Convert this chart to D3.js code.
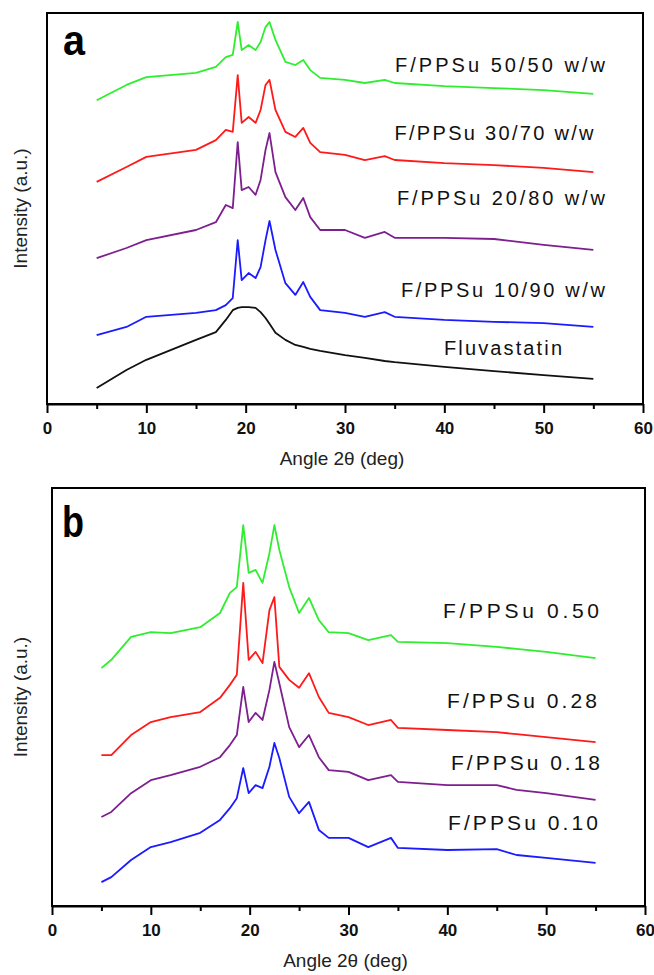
<!DOCTYPE html>
<html>
<head>
<meta charset="utf-8">
<script src="https://d3js.org/d3.v7.min.js"></script>
<style>
  body { margin: 0; background: #fff; }
  svg { display: block; font-family: "Liberation Sans", Arial, sans-serif; }
</style>
</head>
<body>
<svg id="chart" width="654" height="975"></svg>
<script>
// ---- panel a data (angle 2theta in deg, intensity in a.u. offset per trace) ----
const anglesA = [5, 8, 10, 15, 17, 18, 18.7, 19.2, 19.6, 20.3, 21, 21.5, 22, 22.4, 23, 24, 25, 25.8, 26.5, 27.5, 30, 32, 34, 35, 40, 45, 50, 55];
const fluvastatin = [4.1, 8.7, 11.3, 16.4, 18.4, 21.5, 24.0, 24.6, 24.8, 24.8, 24.6, 23.5, 22.0, 20.5, 18.2, 16.4, 15.1, 14.6, 14.1, 13.6, 12.5, 11.8, 11.0, 10.7, 9.5, 8.4, 7.4, 6.4];
const fp1090 = [17.6, 19.7, 22.3, 23.3, 24.0, 25.3, 27.1, 41.9, 31.7, 33.5, 32.2, 35.0, 41.9, 46.8, 39.4, 30.9, 27.9, 31.2, 27.4, 24.0, 23.3, 22.3, 23.5, 22.3, 21.5, 21.0, 20.7, 19.7];
const fp2080 = [37.3, 39.9, 41.9, 44.5, 46.5, 50.9, 50.1, 67.0, 54.7, 55.5, 53.5, 57.3, 65.0, 69.3, 59.3, 52.9, 49.6, 52.7, 47.8, 44.5, 44.5, 42.5, 44.0, 42.5, 42.5, 42.2, 40.7, 39.4];
const fp3070 = [56.8, 60.6, 63.2, 65.0, 67.5, 70.1, 69.6, 84.1, 71.9, 73.4, 71.9, 75.2, 81.6, 82.9, 75.2, 69.6, 68.3, 70.6, 66.8, 64.4, 63.7, 62.4, 63.4, 62.4, 61.6, 61.1, 60.4, 59.3];
const fp5050 = [77.7, 81.6, 83.6, 84.7, 86.2, 88.7, 89.3, 97.7, 90.5, 91.8, 90.5, 92.6, 96.4, 97.7, 93.1, 87.5, 86.7, 88.0, 85.4, 83.4, 82.9, 82.1, 82.9, 82.1, 81.3, 80.8, 80.3, 79.3];
const labelsA = ["F/PPSu 50/50 w/w", "F/PPSu 30/70 w/w", "F/PPSu 20/80 w/w", "F/PPSu 10/90 w/w", "Fluvastatin"];

// ---- panel b data ----
const anglesB = [5, 6, 8, 10, 12, 15, 17, 18, 18.7, 19.35, 19.9, 20.6, 21.3, 22, 22.5, 23, 24, 25, 26, 27, 28, 30, 32, 34.3, 35, 40, 45, 47, 50, 55];
const fp050 = [56.9, 58.9, 64.4, 65.5, 65.3, 66.7, 70.1, 74.9, 76.3, 91.1, 79.7, 80.4, 77.3, 84.4, 91.1, 85.2, 76.3, 70.1, 73.7, 68.4, 65.5, 65.3, 63.6, 64.8, 63.2, 62.9, 62.0, 61.5, 60.8, 59.3];
const fp028 = [36.1, 36.1, 40.9, 44.0, 45.2, 46.4, 49.8, 52.9, 55.3, 77.3, 58.9, 60.8, 58.1, 70.8, 73.9, 57.2, 54.1, 52.2, 55.7, 50.0, 46.2, 45.2, 43.3, 44.5, 42.6, 42.1, 41.6, 41.1, 40.4, 39.2];
const fp018 = [21.3, 22.5, 27.0, 30.1, 31.3, 33.3, 35.6, 38.5, 40.9, 52.4, 44.0, 46.2, 44.5, 51.7, 58.4, 53.3, 42.8, 38.0, 40.9, 35.6, 32.5, 32.1, 30.1, 31.3, 29.7, 28.9, 28.9, 27.8, 27.0, 25.4];
const fp010 = [5.7, 6.9, 11.0, 14.1, 15.3, 17.5, 20.6, 23.4, 25.8, 33.0, 27.0, 28.9, 28.2, 33.3, 39.0, 35.4, 26.1, 22.2, 24.9, 18.2, 16.3, 16.3, 14.1, 16.3, 13.9, 13.4, 13.6, 12.2, 11.5, 10.3];
const labelsB = ["F/PPSu 0.50", "F/PPSu 0.28", "F/PPSu 0.18", "F/PPSu 0.10"];

const majorTicks = [0, 10, 20, 30, 40, 50, 60];
const minorTicks = [5, 15, 25, 35, 45, 55];

const svg = d3.select("#chart");

function drawPanel(p) {
    const x = d3.scaleLinear().domain([0, 60]).range([p.left, p.right]);
    const y = d3.scaleLinear().domain([0, 100]).range([p.bottom, p.top]);
    const g = svg.append("g");

    const line = d3.line()
        .x(d => x(d[0]))
        .y(d => y(d[1]));

    p.series.forEach(s => {
        g.append("path")
            .datum(p.angles.map((a, i) => [a, s.values[i]]))
            .attr("fill", "none")
            .attr("stroke", s.color)
            .attr("stroke-width", 1.8)
            .attr("stroke-linejoin", "round")
            .attr("d", line);
    });

    // frame
    g.append("rect")
        .attr("x", p.left).attr("y", p.top)
        .attr("width", p.right - p.left).attr("height", p.bottom - p.top)
        .attr("fill", "none").attr("stroke", "#000").attr("stroke-width", 2);

    // x axis, major + minor ticks
    const ax = g.append("g")
        .attr("transform", `translate(0,${p.bottom})`)
        .call(d3.axisBottom(x).tickValues(majorTicks).tickSize(9).tickSizeOuter(0).tickPadding(9));
    ax.select(".domain").attr("stroke-width", 2);
    ax.selectAll(".tick line").attr("stroke-width", 2);
    ax.selectAll(".tick text")
        .attr("font-size", 17).attr("font-weight", "bold").attr("fill", "#111")
        .attr("font-family", "'Liberation Sans', Arial, sans-serif");

    const mx = g.append("g")
        .attr("transform", `translate(0,${p.bottom})`)
        .call(d3.axisBottom(x).tickValues(minorTicks).tickSize(5).tickSizeOuter(0).tickFormat(""));
    mx.select(".domain").remove();
    mx.selectAll(".tick line").attr("stroke-width", 2);

    // axis titles
    g.append("text")
        .attr("x", (p.left + p.right) / 2 - 3)
        .attr("y", p.bottom + 61)
        .attr("text-anchor", "middle")
        .attr("font-size", 19).attr("fill", "#222")
        .text("Angle 2θ (deg)");

    g.append("text")
        .attr("transform", `translate(27,${(p.top + p.bottom) / 2}) rotate(-90)`)
        .attr("text-anchor", "middle")
        .attr("font-size", 19).attr("fill", "#222")
        .text("Intensity (a.u.)");

    // panel letter
    g.append("text")
        .attr("x", p.letterX).attr("y", p.letterY)
        .attr("font-size", p.letterSize).attr("font-weight", "bold")
        .attr("textLength", 22).attr("lengthAdjust", "spacingAndGlyphs")
        .text(p.letter);

    // trace labels
    p.labels.forEach((t, i) => {
        const l = p.labelPos[i];
        g.append("text")
            .attr("x", l[0]).attr("y", l[1])
            .attr("text-anchor", p.labelAnchor)
            .attr("dominant-baseline", "central")
            .attr("font-size", p.labelSize).attr("fill", "#111")
            .attr("textLength", l[2]).attr("lengthAdjust", "spacing")
            .text(t);
    });
}

drawPanel({
    left: 47, right: 643, top: 13, bottom: 404,
    angles: anglesA,
    series: [
        { values: fluvastatin, color: "#111111" },
        { values: fp1090, color: "#1b1bff" },
        { values: fp2080, color: "#7d1f8e" },
        { values: fp3070, color: "#ff1a1a" },
        { values: fp5050, color: "#2fee2f" }
    ],
    letter: "a", letterX: 63, letterY: 55, letterSize: 42,
    labels: labelsA,
    labelAnchor: "middle", labelSize: 20,
    labelPos: [[500, 65, 210], [494, 133, 199], [501, 198, 208], [503, 290, 204], [503, 348, 118]]
});

drawPanel({
    left: 52, right: 645, top: 488, bottom: 906,
    angles: anglesB,
    series: [
        { values: fp010, color: "#1b1bff" },
        { values: fp018, color: "#7d1f8e" },
        { values: fp028, color: "#ff1a1a" },
        { values: fp050, color: "#2fee2f" }
    ],
    letter: "b", letterX: 62, letterY: 537, letterSize: 44,
    labels: labelsB,
    labelAnchor: "end", labelSize: 21,
    labelPos: [[599, 610, 156], [597, 700, 150], [600, 762, 149], [598, 822, 150]]
});
</script>
</body>
</html>
